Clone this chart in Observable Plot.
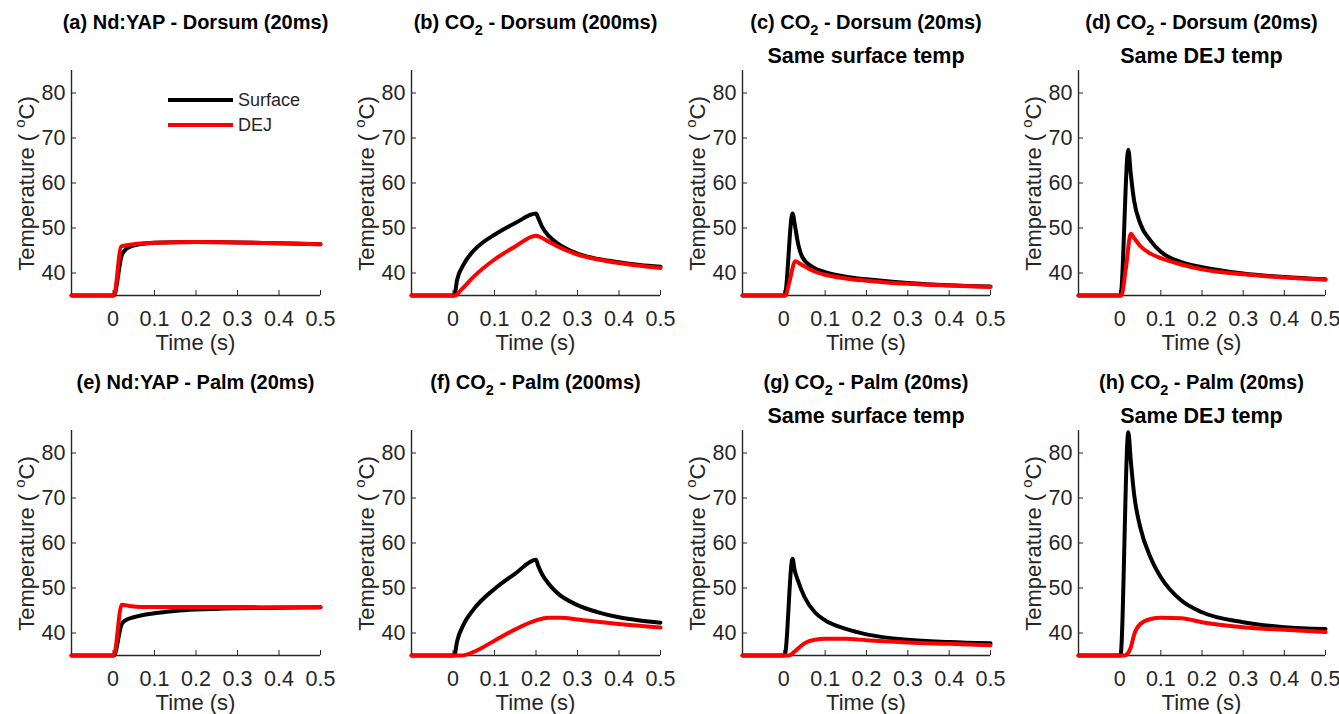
<!DOCTYPE html>
<html><head><meta charset="utf-8">
<script src="https://cdn.jsdelivr.net/npm/d3@7"></script>
<script src="https://cdn.jsdelivr.net/npm/@observablehq/plot@0.6"></script>
<style>
body{margin:0;background:#fff;}
#root{position:relative;width:1339px;height:714px;overflow:hidden;font-family:"Liberation Sans",Arial,sans-serif;}
#root svg{position:absolute;overflow:visible;}
</style></head><body><div id="root"></div>
<script>
// ---- data ----
const xTicks = [0, 0.1, 0.2, 0.3, 0.4, 0.5];
const yTicks = [40, 50, 60, 70, 80];
const xDomain = [-0.1, 0.5];
const yDomain = [35, 85];
const seriesNames = ["Surface", "DEJ"];
const seriesColors = ["#000000", "#ff0000"];
const titles = [
  "(a) Nd:YAP - Dorsum (20ms)", "(b) CO₂ - Dorsum (200ms)", "(c) CO₂ - Dorsum (20ms)", "(d) CO₂ - Dorsum (20ms)",
  "(e) Nd:YAP - Palm (20ms)", "(f) CO₂ - Palm (200ms)", "(g) CO₂ - Palm (20ms)", "(h) CO₂ - Palm (20ms)"
];
const subtitles = ["", "", "Same surface temp", "Same DEJ temp", "", "", "Same surface temp", "Same DEJ temp"];
const xLabel = "Time (s)";

// [time (s), temperature (°C)]
const surfA = [[-0.1,35],[0.002,35],[0.021,43.9],[0.03,45.2],[0.04,45.8],[0.06,46.3],[0.1,46.7],[0.2,46.9],[0.3,46.8],[0.4,46.6],[0.5,46.4]];
const dejA  = [[-0.1,35],[0.002,35],[0.02,45.9],[0.05,46.4],[0.1,46.7],[0.2,46.9],[0.3,46.8],[0.4,46.6],[0.5,46.4]];
const surfB = [[-0.1,35],[0.003,35],[0.01,38.5],[0.025,41.8],[0.05,45.0],[0.075,47.0],[0.1,48.5],[0.15,51.1],[0.2,53.2],[0.205,52.3],[0.215,50.2],[0.23,48.3],[0.25,46.7],[0.3,44.3],[0.35,43.1],[0.4,42.4],[0.45,41.8],[0.5,41.4]];
const dejB  = [[-0.1,35],[0.005,35],[0.02,36.3],[0.05,39.2],[0.1,43.0],[0.15,45.9],[0.2,48.3],[0.21,48.0],[0.23,47.0],[0.25,46.0],[0.3,44.1],[0.35,43.0],[0.4,42.2],[0.45,41.6],[0.5,41.1]];
const surfC = [[-0.1,35],[0.002,35],[0.021,53.2],[0.027,50.5],[0.033,47.2],[0.045,43.5],[0.07,41.3],[0.1,40.2],[0.15,39.2],[0.2,38.6],[0.3,37.8],[0.4,37.3],[0.5,37.0]];
const dejC  = [[-0.1,35],[0.004,35],[0.012,37.5],[0.028,42.6],[0.04,42.0],[0.07,40.5],[0.1,39.6],[0.15,38.8],[0.2,38.3],[0.3,37.6],[0.4,37.2],[0.5,36.9]];
const surfD = [[-0.1,35],[0.002,35],[0.021,67.4],[0.027,62.0],[0.035,56.1],[0.05,51.0],[0.075,47.2],[0.1,44.7],[0.15,42.4],[0.2,41.3],[0.3,39.9],[0.4,39.1],[0.5,38.6]];
const dejD  = [[-0.1,35],[0.004,35],[0.015,41.0],[0.027,48.7],[0.035,47.8],[0.05,46.0],[0.075,44.3],[0.1,43.3],[0.15,41.9],[0.2,40.8],[0.3,39.7],[0.4,39.0],[0.5,38.5]];
const surfE = [[-0.1,35],[0.002,35],[0.021,42.0],[0.03,42.8],[0.05,43.5],[0.1,44.4],[0.15,44.9],[0.2,45.2],[0.3,45.5],[0.4,45.6],[0.5,45.7]];
const dejE  = [[-0.1,35],[0.002,35],[0.021,46.3],[0.04,46.0],[0.07,45.8],[0.1,45.8],[0.2,45.8],[0.3,45.8],[0.4,45.7],[0.5,45.7]];
const surfF = [[-0.1,35],[0.003,35],[0.01,38.2],[0.025,41.8],[0.05,45.3],[0.1,49.8],[0.15,53.2],[0.2,56.3],[0.205,55.0],[0.215,53.0],[0.23,51.0],[0.25,49.0],[0.3,46.2],[0.35,44.6],[0.4,43.5],[0.45,42.8],[0.5,42.3]];
const dejF  = [[-0.1,35],[0.02,35],[0.05,35.8],[0.1,38.3],[0.15,40.8],[0.2,42.8],[0.23,43.4],[0.26,43.4],[0.3,43.0],[0.4,42.0],[0.5,41.2]];
const surfG = [[-0.1,35],[0.002,35],[0.021,56.5],[0.026,54.0],[0.034,51.7],[0.05,48.0],[0.075,44.6],[0.1,42.8],[0.15,40.9],[0.2,39.7],[0.3,38.5],[0.4,38.0],[0.5,37.7]];
const dejG  = [[-0.1,35],[0.012,35],[0.025,35.8],[0.04,37.0],[0.05,37.7],[0.075,38.5],[0.1,38.7],[0.15,38.7],[0.2,38.4],[0.3,37.9],[0.4,37.6],[0.5,37.3]];
const surfH = [[-0.1,35],[0.002,35],[0.021,84.6],[0.027,78.3],[0.035,70.9],[0.05,63.5],[0.075,56.8],[0.1,52.4],[0.15,47.2],[0.2,44.6],[0.3,42.4],[0.4,41.3],[0.5,40.9]];
const dejH  = [[-0.1,35],[0.012,35],[0.02,35.5],[0.027,36.8],[0.035,39.6],[0.05,42.0],[0.075,43.1],[0.1,43.4],[0.15,43.3],[0.2,42.4],[0.3,41.3],[0.4,40.7],[0.5,40.2]];

const surfaceSeries = [surfA, surfB, surfC, surfD, surfE, surfF, surfG, surfH];
const dejSeries = [dejA, dejB, dejC, dejD, dejE, dejF, dejG, dejH];

// ---- layout ----
const frameLefts = [71, 411, 742, 1078];
const frameRights = [320, 660, 990, 1325];
const ML = 71, MR = 20, MT = 70, MB = 65, H = 360;
const axisColor = "#262626";
const font = '"Liberation Sans", Arial, sans-serif';
const root = document.getElementById("root");

function addRichText(sel, str, subSize) {
  const parts = str.split("₂");
  parts.forEach((p, i) => {
    if (i > 0) {
      sel.append("tspan").attr("font-size", subSize).attr("dy", 6).text("2");
      sel.append("tspan").attr("dy", -6).text(p);
    } else {
      sel.append("tspan").text(p);
    }
  });
}

for (let i = 0; i < 8; i++) {
  const col = i % 4, row = Math.floor(i / 4);
  const fw = frameRights[col] - frameLefts[col];
  const W = ML + fw + MR;
  const innerH = H - MT - MB;
  const svg = Plot.plot({
    width: W, height: H,
    marginLeft: ML, marginRight: MR, marginTop: MT, marginBottom: MB,
    x: {domain: xDomain},
    y: {domain: yDomain},
    style: {background: "transparent", overflow: "visible", fontFamily: font, color: axisColor},
    marks: [
      Plot.axisX(xTicks, {tickSize: 0, tickPadding: 15, fontSize: 21.5, fill: axisColor, tickFormat: d => String(d), label: null}),
      Plot.axisY(yTicks, {tickSize: 0, tickPadding: 6, fontSize: 21.5, fill: axisColor, label: null}),
      Plot.ruleX(xTicks, {x: d => d, insetTop: innerH - 5, stroke: axisColor, strokeWidth: 1}),
      Plot.ruleY(yTicks, {y: d => d, insetRight: fw - 5, stroke: axisColor, strokeWidth: 1}),
      Plot.ruleX([xDomain[0]], {stroke: axisColor, strokeWidth: 1.4}),
      Plot.ruleY([yDomain[0]], {stroke: axisColor, strokeWidth: 1.4}),
      Plot.line(surfaceSeries[i], {x: d => d[0], y: d => d[1], stroke: seriesColors[0], strokeWidth: 4, curve: "monotone-x"}),
      Plot.line(dejSeries[i], {x: d => d[0], y: d => d[1], stroke: seriesColors[1], strokeWidth: 4, curve: "monotone-x"})
    ]
  });
  svg.style.left = (frameLefts[col] - ML) + "px";
  svg.style.top = (row * H) + "px";
  root.appendChild(svg);
  const s = d3.select(svg);
  const cx = ML + fw / 2;
  const t = s.append("text").attr("x", cx).attr("y", 28.5).attr("text-anchor", "middle")
    .attr("font-family", font).attr("font-weight", "bold").attr("font-size", 20).attr("fill", "#000");
  addRichText(t, titles[i], 14.5);
  if (subtitles[i]) {
    s.append("text").attr("x", cx).attr("y", 63).attr("text-anchor", "middle")
      .attr("font-family", font).attr("font-weight", "bold").attr("font-size", 21.5).attr("fill", "#000")
      .text(subtitles[i]);
  }
  s.append("text").attr("x", cx).attr("y", 350).attr("text-anchor", "middle")
    .attr("font-family", font).attr("font-size", 22).attr("fill", axisColor).text(xLabel);
  const yl = s.append("text").attr("transform", `translate(34,${MT + innerH / 2 + 1}) rotate(-90)`)
    .attr("text-anchor", "middle").attr("font-family", font).attr("font-size", 22).attr("fill", axisColor);
  yl.append("tspan").text("Temperature ( ");
  yl.append("tspan").attr("font-size", 15).attr("dy", -9).text("o");
  yl.append("tspan").attr("dy", 9).text("C)");
  if (i === 0) {
    seriesNames.forEach((name, k) => {
      const ly = 100 + k * 25;
      s.append("line").attr("x1", 168).attr("x2", 233).attr("y1", ly).attr("y2", ly)
        .attr("stroke", seriesColors[k]).attr("stroke-width", 4);
      s.append("text").attr("x", 238).attr("y", ly).attr("dy", "0.35em").attr("text-anchor", "start")
        .attr("font-family", font).attr("font-size", 18).attr("fill", axisColor).text(name);
    });
  }
}
</script>
</body></html>
